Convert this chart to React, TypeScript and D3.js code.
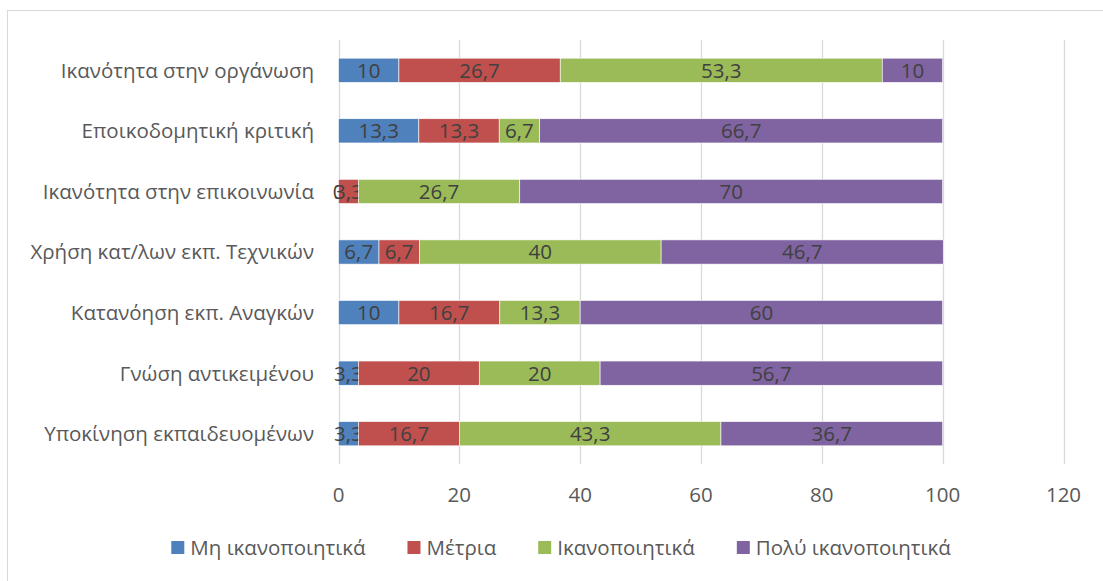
import React, { useEffect, useRef } from 'react';
import * as d3 from 'd3';

const categories = [
  'Ικανότητα στην οργάνωση',
  'Εποικοδομητική κριτική',
  'Ικανότητα στην επικοινωνία',
  'Χρήση κατ/λων εκπ. Τεχνικών',
  'Κατανόηση εκπ. Αναγκών',
  'Γνώση αντικειμένου',
  'Υποκίνηση εκπαιδευομένων',
];

const seriesNames = ['Μη ικανοποιητικά', 'Μέτρια', 'Ικανοποιητικά', 'Πολύ ικανοποιητικά'];
const seriesColors = ['#4F81BD', '#C0504D', '#9BBB59', '#8064A2'];

const notSatisfactory = [10, 13.3, 0, 6.7, 10, 3.3, 3.3];
const moderate = [26.7, 13.3, 3.3, 6.7, 16.7, 20, 16.7];
const satisfactory = [53.3, 6.7, 26.7, 40, 13.3, 20, 43.3];
const verySatisfactory = [10, 66.7, 70, 46.7, 60, 56.7, 36.7];

const xTicks = [0, 20, 40, 60, 80, 100, 120];

const FONT = '"Open Sans", sans-serif';
const FS = '20.5px';

const App = () => {
  const svgRef = useRef<SVGSVGElement>(null);
  const width = 1103;
  const height = 581;

  useEffect(() => {
    const svg = d3.select(svgRef.current);
    svg.selectAll('*').remove();

    const values = [notSatisfactory, moderate, satisfactory, verySatisfactory];
    const rows = categories.map((c, i) => {
      const r: any = { category: c };
      seriesNames.forEach((s, k) => { r[s] = values[k][i]; });
      return r;
    });
    const stacked = d3.stack().keys(seriesNames)(rows);

    const xScale = d3.scaleLinear().domain([0, 120]).range([338.5, 1063.5]);
    const yScale = d3.scaleBand().domain(categories).range([40, 464])
      .paddingInner(0.6).paddingOuter(0.3);

    // chart border
    svg.append('rect')
      .attr('x', 7.5).attr('y', 10.5)
      .attr('width', width + 10).attr('height', height + 10)
      .attr('fill', 'white').attr('stroke', '#d9d9d9');

    // gridlines
    svg.append('g').selectAll('line')
      .data(xTicks)
      .enter().append('line')
      .attr('x1', d => Math.round(xScale(d)) + 0.5)
      .attr('x2', d => Math.round(xScale(d)) + 0.5)
      .attr('y1', 40).attr('y2', 464)
      .attr('stroke', '#d9d9d9').attr('stroke-width', 1.3);

    // bars
    const layers = svg.append('g').selectAll('g')
      .data(stacked)
      .enter().append('g')
      .attr('fill', (d, i) => seriesColors[i]);

    layers.selectAll('rect')
      .data(d => d)
      .enter().append('rect')
      .attr('x', d => xScale(d[0]))
      .attr('y', d => yScale(d.data.category))
      .attr('width', d => xScale(d[1]) - xScale(d[0]))
      .attr('height', yScale.bandwidth())
      .attr('stroke', 'white').attr('stroke-width', 0.6);

    // value labels
    layers.selectAll('text')
      .data(d => d)
      .enter().append('text')
      .attr('x', d => (xScale(d[0]) + xScale(d[1])) / 2)
      .attr('y', d => yScale(d.data.category) + yScale.bandwidth() / 2)
      .attr('dy', '0.36em')
      .attr('text-anchor', 'middle')
      .attr('fill', '#404040')
      .style('font-family', FONT)
      .style('font-size', FS)
      .text(d => String(+(d[1] - d[0]).toFixed(1)).replace('.', ','));

    // category labels
    svg.append('g').selectAll('text')
      .data(categories)
      .enter().append('text')
      .attr('x', 314)
      .attr('y', d => yScale(d) + yScale.bandwidth() / 2)
      .attr('dy', '0.36em')
      .attr('text-anchor', 'end')
      .attr('fill', '#595959')
      .style('font-family', FONT)
      .style('font-size', FS)
      .text(d => d);

    // x tick labels
    svg.append('g').selectAll('text')
      .data(xTicks)
      .enter().append('text')
      .attr('x', d => xScale(d))
      .attr('y', 495)
      .attr('dy', '0.36em')
      .attr('text-anchor', 'middle')
      .attr('fill', '#595959')
      .style('font-family', FONT)
      .style('font-size', FS)
      .text(d => d);

    // legend
    const legend = svg.append('g');
    const items = legend.selectAll('g')
      .data(seriesNames)
      .enter().append('g');
    items.append('rect')
      .attr('width', 13).attr('height', 13)
      .attr('y', 541)
      .attr('fill', (d, i) => seriesColors[i]);
    const labels = items.append('text')
      .attr('x', 19)
      .attr('y', 548)
      .attr('dy', '0.36em')
      .attr('fill', '#595959')
      .style('font-family', FONT)
      .style('font-size', FS)
      .text(d => d);
    const gap = 42;
    const widths = labels.nodes().map(n => 19 + (n as SVGTextElement).getComputedTextLength());
    const total = d3.sum(widths) + gap * (widths.length - 1);
    let cursor = 561 - total / 2;
    items.attr('transform', (d, i) => {
      const x = cursor;
      cursor += widths[i] + gap;
      return `translate(${x},0)`;
    });
  }, []);

  return (
    <svg ref={svgRef} width={width} height={height}
      style={{ position: 'absolute', left: 0, top: 0, background: 'white' }} />
  );
};

export default App;
